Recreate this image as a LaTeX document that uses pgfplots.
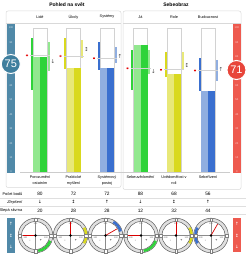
\documentclass[border=0pt]{standalone}
\usepackage{pgfplots}
\pgfplotsset{compat=1.18}
\usepackage{fontspec}
\setmainfont{Liberation Sans}
\newfontfamily\sym{DejaVu Sans}
\definecolor{dgreen}{HTML}{2FD33A}
\definecolor{lgreen}{HTML}{92E88F}
\definecolor{dyellow}{HTML}{D9D91E}
\definecolor{lyellow}{HTML}{E8E878}
\definecolor{dblue}{HTML}{3A6FCF}
\definecolor{lblue}{HTML}{90AEE0}
\definecolor{sblue}{HTML}{5089A8}
\definecolor{cblue}{HTML}{3F7F9E}
\definecolor{sred}{HTML}{EE5A4F}
\definecolor{cred}{HTML}{E8453A}
\newcommand{\gauge}[5]{%
 \begin{scope}[shift={(#1,235.5)},y=1pt]
  \fill[gray!25] (0,0) circle (17.3);
  \draw[black!65,line width=0.5pt] (0,0) circle (17.3);
  \draw[#3,line width=2.6pt] (#4:15.6) arc (#4:#5:15.6);
  \fill[white] (0,0) circle (14);
  \draw[black!65,line width=0.5pt] (0,0) circle (14);
  \foreach \a in {0,90,180,270}{\fill[white,rotate=\a] (13.9,-1.3) rectangle (17.3,1.3);
    \draw[black!50,line width=0.3pt,rotate=\a] (13.9,-1.3) rectangle (17.3,1.3);}
  \draw[black!45,line width=0.5pt] (-14,0)--(14,0) (0,-14)--(0,14);
  \node[font=\fontsize{2.2}{2.5}\selectfont,text=black!60] at (-10.5,-1.8) {-100};
  \node[font=\fontsize{2.2}{2.5}\selectfont,text=black!60] at (10.5,-1.8) {100};
  \node[font=\fontsize{2.2}{2.5}\selectfont,text=black!60] at (0,11.5) {100};
  \node[font=\fontsize{3.5}{3.5}\selectfont] at (-5.5,-5) {-};
  \node[font=\fontsize{3.5}{3.5}\selectfont] at (5.5,-5) {+};
  \draw[red!85!black,line width=0.7pt] (0,0)--(#2:13);
  \fill[black] (0,0) circle (1.3);
 \end{scope}}
\begin{document}
\begin{tikzpicture}[font=\fontsize{4.2}{4.8}\selectfont]
\path[use as bounding box] (0pt,0pt) rectangle (246pt,255pt);
\begin{scope}[shift={(0pt,255pt)},x=1pt,y=-1pt]
% panels
\draw[gray!30,rounded corners=2pt,line width=0.5pt] (6,11) rectangle (121,187.5);
\draw[gray!30,rounded corners=2pt,line width=0.5pt] (123,11) rectangle (241,189.5);
\draw[gray!30,line width=0.5pt] (6,23.5)--(121,23.5) (123,23.5)--(241,23.5);
\node[font=\bfseries\fontsize{5}{5}\selectfont] at (67,5) {Pohled na svět};
\node[font=\bfseries\fontsize{5}{5}\selectfont] at (176,5) {Sebeobraz};
\foreach \x/\t in {40/Lidé,73.5/Úkoly,107/Systémy,140.5/Já,174/Role,208/Budoucnost}
  \node[font=\fontsize{3.8}{4}\selectfont] at (\x,16.8) {\t};
% scale bars
\fill[sblue] (7,24) rectangle (15,173.5);
\fill[sred] (232.5,24) rectangle (241,173.5);
\foreach \v in {0,10,...,100}{
  \node[font=\fontsize{2.6}{3}\selectfont,text=white!75!sblue] at (11,{172-1.44*\v}) {\v};
  \node[font=\fontsize{2.6}{3}\selectfont,text=white!75!sred] at (236.8,{172-1.44*\v}) {\v};}
\end{scope}
\begin{axis}[at={(0pt,83pt)},anchor=south west,width=246pt,height=144pt,scale only axis,
  xmin=0,xmax=246,ymin=0,ymax=100,hide axis,clip=false]
% bands (left dark, right light)
\addplot[fill=dgreen,draw=none] coordinates {(30.5,57) (33,57) (33,93) (30.5,93)} --cycle;
\addplot[fill=lgreen,draw=none] coordinates {(47,70) (49.5,70) (49.5,90) (47,90)} --cycle;
\addplot[fill=dyellow,draw=none] coordinates {(64,71.5) (66.5,71.5) (66.5,93) (64,93)} --cycle;
\addplot[fill=lyellow,draw=none] coordinates {(80.5,79) (83,79) (83,92) (80.5,92)} --cycle;
\addplot[fill=dblue,draw=none] coordinates {(97.5,71) (100,71) (100,90.5) (97.5,90.5)} --cycle;
\addplot[fill=lblue,draw=none] coordinates {(114,76) (116.5,76) (116.5,87) (114,87)} --cycle;
\addplot[fill=dgreen,draw=none] coordinates {(131,57) (133.5,57) (133.5,85) (131,85)} --cycle;
\addplot[fill=lgreen,draw=none] coordinates {(147.5,68) (150,68) (150,85) (147.5,85)} --cycle;
\addplot[fill=dyellow,draw=none] coordinates {(164.5,66) (167,66) (167,83.5) (164.5,83.5)} --cycle;
\addplot[fill=lyellow,draw=none] coordinates {(181,71) (183.5,71) (183.5,83.5) (181,83.5)} --cycle;
\addplot[fill=dblue,draw=none] coordinates {(198.5,56) (201,56) (201,79.5) (198.5,79.5)} --cycle;
\addplot[fill=lblue,draw=none] coordinates {(215,63) (217.5,63) (217.5,78) (215,78)} --cycle;
% thermometer boxes
\addplot[fill=white,draw=gray!35,line width=0.8pt] coordinates {(33,0) (47,0) (47,100) (33,100)} --cycle;
\addplot[fill=white,draw=gray!35,line width=0.8pt] coordinates {(66.5,0) (80.5,0) (80.5,100) (66.5,100)} --cycle;
\addplot[fill=white,draw=gray!35,line width=0.8pt] coordinates {(100,0) (114,0) (114,100) (100,100)} --cycle;
\addplot[fill=white,draw=gray!35,line width=0.8pt] coordinates {(133.5,0) (147.5,0) (147.5,100) (133.5,100)} --cycle;
\addplot[fill=white,draw=gray!35,line width=0.8pt] coordinates {(167,0) (181,0) (181,100) (167,100)} --cycle;
\addplot[fill=white,draw=gray!35,line width=0.8pt] coordinates {(201,0) (215,0) (215,100) (201,100)} --cycle;
% bars: light half, dark half
\addplot[ybar,bar width=7,bar shift=0pt,fill=lgreen,draw=none] coordinates {(36.5,80)};
\addplot[ybar,bar width=7,bar shift=0pt,fill=dgreen,draw=none] coordinates {(43.5,80)};
\addplot[ybar,bar width=7,bar shift=0pt,fill=lyellow,draw=none] coordinates {(70,72)};
\addplot[ybar,bar width=7,bar shift=0pt,fill=dyellow,draw=none] coordinates {(77,72)};
\addplot[ybar,bar width=7,bar shift=0pt,fill=lblue,draw=none] coordinates {(103.5,72)};
\addplot[ybar,bar width=7,bar shift=0pt,fill=dblue,draw=none] coordinates {(110.5,72)};
\addplot[ybar,bar width=7,bar shift=0pt,fill=lgreen,draw=none] coordinates {(137,88)};
\addplot[ybar,bar width=7,bar shift=0pt,fill=dgreen,draw=none] coordinates {(144,88)};
\addplot[ybar,bar width=7,bar shift=0pt,fill=lyellow,draw=none] coordinates {(170.5,68)};
\addplot[ybar,bar width=7,bar shift=0pt,fill=dyellow,draw=none] coordinates {(177.5,68)};
\addplot[ybar,bar width=7,bar shift=0pt,fill=lblue,draw=none] coordinates {(204.5,56)};
\addplot[ybar,bar width=7,bar shift=0pt,fill=dblue,draw=none] coordinates {(211.5,56)};
% mean ticks
\addplot[gray!35,line width=0.6pt] coordinates {(30,81) (50,81)};
\addplot[gray!35,line width=0.6pt] coordinates {(63.5,80.5) (83.5,80.5)};
\addplot[gray!35,line width=0.6pt] coordinates {(97,79) (117,79)};
\addplot[gray!35,line width=0.6pt] coordinates {(130.5,72) (150.5,72)};
\addplot[gray!35,line width=0.6pt] coordinates {(164,71) (184,71)};
\addplot[gray!35,line width=0.6pt] coordinates {(198,70.5) (218,70.5)};
% red stars
\addplot[only marks,mark=asterisk,mark size=1.1pt,red!90!black,line width=0.4pt] coordinates {(27,81) (60.5,80.5) (94,79) (127.5,72) (161,71) (195,70.5)};
% baseline
\addplot[gray!40,line width=0.4pt] coordinates {(20,0) (230,0)};
% arrows
\node[font=\sym\fontsize{5.5}{5.5}\selectfont,text=black!70] at (axis cs:53,76.5) {↓};
\node[font=\sym\fontsize{5.5}{5.5}\selectfont,text=black!70] at (axis cs:86.5,85) {↕};
\node[font=\sym\fontsize{5.5}{5.5}\selectfont,text=black!70] at (axis cs:120,80) {↑};
\node[font=\sym\fontsize{5.5}{5.5}\selectfont,text=black!70] at (axis cs:153.5,70) {↓};
\node[font=\sym\fontsize{5.5}{5.5}\selectfont,text=black!70] at (axis cs:187,74) {↕};
\node[font=\sym\fontsize{5.5}{5.5}\selectfont,text=black!70] at (axis cs:221,71) {↑};
\end{axis}
\begin{scope}[shift={(0pt,255pt)},x=1pt,y=-1pt]
% score circles
\node[circle,fill=cblue,draw=white,line width=1pt,minimum size=19pt,inner sep=0pt,text=white,font=\fontsize{11}{11}\selectfont] at (10.8,64) {75};
\node[circle,fill=cred,draw=white,line width=1pt,minimum size=19pt,inner sep=0pt,text=white,font=\fontsize{11}{11}\selectfont] at (236.5,70) {71};
% bottom labels
\foreach \x/\t in {40/{Porozumění\\ostatním},73.5/{Praktické\\myšlení},107/{Systémový\\postoj},140.5/{Sebeuvědomění},174/{Uvědomělost v\\roli},208/{Sebeřízení}}
  \node[anchor=north,align=center,font=\fontsize{3.8}{5.3}\selectfont,inner sep=0pt] at (\x,175.8) {\t};
% table
\draw[gray!25,line width=0.4pt] (0,197.8)--(246,197.8) (0,206)--(246,206) (0,214.5)--(246,214.5);
\node[anchor=east,inner sep=0pt,font=\fontsize{3.9}{4.5}\selectfont] at (22.5,194) {Počet bodů};
\node[anchor=east,inner sep=0pt,font=\itshape\fontsize{3.9}{4.5}\selectfont] at (22.5,202.2) {Zlepšení};
\node[anchor=east,inner sep=0pt,font=\fontsize{3.9}{4.5}\selectfont] at (22.5,210.8) {Slepá skvrna};
\foreach \x/\a/\b/\c in {40/80/↓/20,73.5/72/↕/28,107/72/↑/28,140.5/88/↓/12,174/68/↕/32,208/56/↑/44}{
  \node[font=\fontsize{4.8}{5}\selectfont] at (\x,194) {\a};
  \node[font=\sym\fontsize{4.5}{5}\selectfont] at (\x,202.2) {\b};
  \node[font=\fontsize{4.8}{5}\selectfont] at (\x,210.8) {\c};}
% side arrow bars
\fill[sblue] (7,218) rectangle (15,253);
\fill[sred] (233,218) rectangle (241,252);
\foreach \y/\s in {224/↑,235.5/↕,247/↓}{
  \node[font=\sym\fontsize{4.5}{5}\selectfont,text=white] at (11,\y) {\s};
  \node[font=\sym\fontsize{4.5}{5}\selectfont,text=white] at (237,\y) {\s};}
% gauges
\gauge{35.5}{180}{dgreen}{-80}{-20}
\gauge{70.5}{90}{dyellow}{-30}{30}
\gauge{105.5}{30}{dblue}{15}{60}
\gauge{141}{180}{dgreen}{-80}{-20}
\gauge{176}{90}{dyellow}{-30}{30}
\gauge{211}{60}{dblue}{150}{210}
\end{scope}
\end{tikzpicture}
\end{document}
